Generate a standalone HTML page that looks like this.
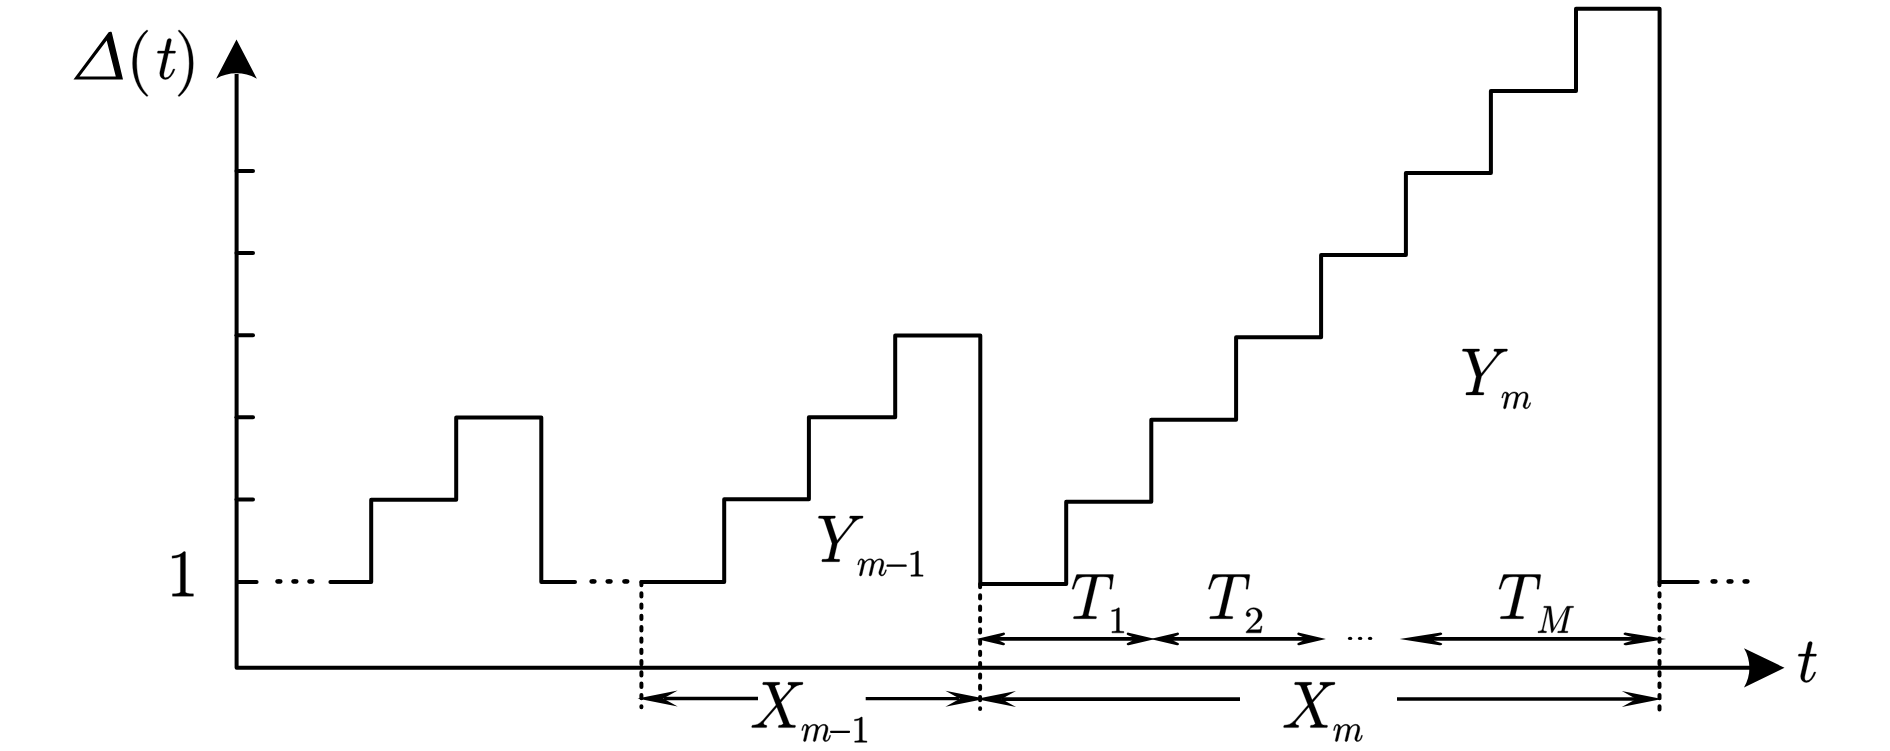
<!DOCTYPE html>
<html><head><meta charset="utf-8"><title>Age of information sample path</title>
<style>
html,body{margin:0;padding:0;background:#fff;}
body{width:1890px;height:751px;overflow:hidden;font-family:"Liberation Serif",serif;}
svg{display:block;}
</style></head><body>
<svg width="1890" height="751" viewBox="0 0 1890 751">
<desc>Sample path of the age process &#916;(t): staircase pulses with areas Y_{m-1}, Y_m, inter-departure intervals X_{m-1}, X_m and slots T_1, T_2, ..., T_M along the t axis; level 1 marked on the vertical axis.</desc>
<rect width="1890" height="751" fill="#fff"/>
<g fill="#000" stroke="none">
<path fill-rule="evenodd" d="M73.5,79.6 L108.6,32.2 Q109.2,31.8 110.2,31.8 L111.1,31.8 Q111.7,31.9 111.8,32.5 L123.0,79.6 Z M79.5,76.6 L115.8,76.6 L106.7,40.4 Z"/>
<path transform="matrix(0.03181 0 0 -0.03228 126.27 79.78)" stroke="#000" stroke-width="0.30" stroke-linejoin="round" vector-effect="non-scaling-stroke" d="M635 -508Q521 -418 438 -302Q356 -185 304 -53Q251 79 225 223Q199 367 199 512Q199 659 225 803Q251 947 304 1080Q358 1213 441 1329Q524 1445 635 1532Q635 1536 645 1536H664Q670 1536 675 1530Q680 1525 680 1518Q680 1509 676 1505Q576 1407 510 1295Q443 1183 402 1056Q362 930 344 794Q326 659 326 512Q326 -139 674 -477Q680 -483 680 -494Q680 -499 674 -506Q669 -512 664 -512H645Q635 -512 635 -508Z"/>
<path transform="matrix(0.02884 0 0 -0.03149 156.10 78.78)" stroke="#000" stroke-width="0.30" stroke-linejoin="round" vector-effect="non-scaling-stroke" d="M127 166Q127 196 133 223L281 811H66Q45 811 45 838Q53 883 72 883H299L381 1217Q389 1244 413 1263Q437 1282 467 1282Q493 1282 510 1266Q528 1251 528 1225Q528 1219 528 1216Q527 1212 526 1208L444 883H655Q676 883 676 856Q675 851 672 839Q669 827 664 819Q659 811 649 811H426L279 219Q264 161 264 119Q264 31 324 31Q414 31 484 116Q553 200 590 301Q598 313 606 313H631Q639 313 644 308Q649 302 649 295Q649 291 647 289Q602 165 516 71Q430 -23 319 -23Q238 -23 182 30Q127 83 127 166Z"/>
<path transform="matrix(0.03119 0 0 -0.03228 174.61 79.78)" stroke="#000" stroke-width="0.30" stroke-linejoin="round" vector-effect="non-scaling-stroke" d="M133 -512Q115 -512 115 -494Q115 -485 119 -481Q469 -139 469 512Q469 1163 123 1501Q115 1506 115 1518Q115 1525 120 1530Q126 1536 133 1536H152Q158 1536 162 1532Q309 1416 407 1250Q505 1084 550 896Q596 708 596 512Q596 367 572 226Q547 86 494 -50Q440 -187 358 -302Q276 -418 162 -508Q158 -512 152 -512Z"/>
<path transform="matrix(0.03114 0 0 -0.03270 166.56 596.20)" stroke="#000" stroke-width="0.30" stroke-linejoin="round" vector-effect="non-scaling-stroke" d="M190 0V72Q446 72 446 137V1212Q340 1161 178 1161V1233Q429 1233 557 1364H586Q593 1364 600 1358Q606 1353 606 1346V137Q606 72 862 72V0Z"/>
<path transform="matrix(0.02884 0 0 -0.03149 1797.00 681.78)" stroke="#000" stroke-width="0.30" stroke-linejoin="round" vector-effect="non-scaling-stroke" d="M127 166Q127 196 133 223L281 811H66Q45 811 45 838Q53 883 72 883H299L381 1217Q389 1244 413 1263Q437 1282 467 1282Q493 1282 510 1266Q528 1251 528 1225Q528 1219 528 1216Q527 1212 526 1208L444 883H655Q676 883 676 856Q675 851 672 839Q669 827 664 819Q659 811 649 811H426L279 219Q264 161 264 119Q264 31 324 31Q414 31 484 116Q553 200 590 301Q598 313 606 313H631Q639 313 644 308Q649 302 649 295Q649 291 647 289Q602 165 516 71Q430 -23 319 -23Q238 -23 182 30Q127 83 127 166Z"/>
<path transform="matrix(0.02990 0 0 -0.03267 816.37 561.70)" stroke="#000" stroke-width="0.30" stroke-linejoin="round" vector-effect="non-scaling-stroke" d="M182 27Q183 32 186 44Q189 56 194 64Q199 72 209 72Q334 72 383 86Q393 89 402 100Q410 111 415 123Q420 135 424 147L526 559L262 1286Q244 1313 197 1320Q150 1327 88 1327Q68 1327 68 1354Q74 1379 79 1389Q84 1399 102 1399H618Q637 1399 637 1372Q629 1327 610 1327Q465 1327 465 1282L696 651L1180 1210Q1184 1220 1194 1234Q1204 1249 1209 1259Q1214 1269 1214 1282Q1214 1327 1130 1327Q1110 1327 1110 1354Q1114 1370 1116 1379Q1119 1388 1126 1394Q1132 1399 1145 1399H1542Q1551 1399 1557 1390Q1563 1381 1563 1372Q1559 1357 1557 1350Q1555 1344 1550 1336Q1545 1327 1534 1327Q1452 1327 1379 1292Q1306 1256 1251 1192Q1249 1190 1246 1188Q1244 1187 1241 1184L700 559L594 135Q594 130 592 120Q590 110 590 104Q590 96 592 90Q595 85 600 84Q604 82 614 80Q653 72 762 72Q782 72 782 45Q775 16 771 8Q767 0 748 0H203Q182 0 182 27Z"/>
<path transform="matrix(0.01700 0 0 -0.01843 856.81 575.53)" stroke="#000" stroke-width="0.40" stroke-linejoin="round" vector-effect="non-scaling-stroke" d="M158 35Q158 47 160 53L313 664Q328 721 328 764Q328 852 268 852Q204 852 173 776Q142 699 113 582Q113 576 107 572Q101 569 96 569H72Q65 569 60 576Q55 584 55 590Q77 679 98 741Q118 803 162 854Q205 905 270 905Q347 905 406 856Q465 808 465 733Q526 813 608 859Q690 905 782 905Q879 905 950 856Q1020 806 1020 715Q1083 804 1168 854Q1252 905 1352 905Q1458 905 1522 848Q1587 790 1587 684Q1587 600 1550 481Q1512 362 1456 215Q1427 144 1427 92Q1427 31 1475 31Q1555 31 1608 117Q1661 203 1683 301Q1689 313 1700 313H1724Q1732 313 1738 308Q1743 302 1743 295Q1743 293 1741 289Q1713 173 1644 75Q1574 -23 1470 -23Q1398 -23 1347 26Q1296 76 1296 147Q1296 183 1313 227Q1371 381 1410 502Q1448 623 1448 715Q1448 772 1425 812Q1402 852 1348 852Q1236 852 1154 784Q1072 715 1012 602Q1008 582 1006 571L874 45Q867 17 842 -3Q818 -23 788 -23Q764 -23 746 -7Q727 9 727 35Q727 47 729 53L860 575Q881 659 881 715Q881 772 858 812Q834 852 778 852Q703 852 640 819Q577 786 530 732Q483 677 444 602L305 45Q298 17 274 -3Q249 -23 219 -23Q194 -23 176 -7Q158 9 158 35Z"/>
<path transform="matrix(0.01615 0 0 -0.02683 883.75 579.44)" d="M209 471Q192 471 181 484Q170 497 170 512Q170 527 181 540Q192 553 209 553H1384Q1400 553 1410 540Q1421 527 1421 512Q1421 497 1410 484Q1400 471 1384 471Z"/>
<path transform="matrix(0.01798 0 0 -0.01848 907.55 576.25)" stroke="#000" stroke-width="0.40" stroke-linejoin="round" vector-effect="non-scaling-stroke" d="M190 0V72Q446 72 446 137V1212Q340 1161 178 1161V1233Q429 1233 557 1364H586Q593 1364 600 1358Q606 1353 606 1346V137Q606 72 862 72V0Z"/>
<path transform="matrix(0.03017 0 0 -0.03281 1460.35 394.90)" stroke="#000" stroke-width="0.30" stroke-linejoin="round" vector-effect="non-scaling-stroke" d="M182 27Q183 32 186 44Q189 56 194 64Q199 72 209 72Q334 72 383 86Q393 89 402 100Q410 111 415 123Q420 135 424 147L526 559L262 1286Q244 1313 197 1320Q150 1327 88 1327Q68 1327 68 1354Q74 1379 79 1389Q84 1399 102 1399H618Q637 1399 637 1372Q629 1327 610 1327Q465 1327 465 1282L696 651L1180 1210Q1184 1220 1194 1234Q1204 1249 1209 1259Q1214 1269 1214 1282Q1214 1327 1130 1327Q1110 1327 1110 1354Q1114 1370 1116 1379Q1119 1388 1126 1394Q1132 1399 1145 1399H1542Q1551 1399 1557 1390Q1563 1381 1563 1372Q1559 1357 1557 1350Q1555 1344 1550 1336Q1545 1327 1534 1327Q1452 1327 1379 1292Q1306 1256 1251 1192Q1249 1190 1246 1188Q1244 1187 1241 1184L700 559L594 135Q594 130 592 120Q590 110 590 104Q590 96 592 90Q595 85 600 84Q604 82 614 80Q653 72 762 72Q782 72 782 45Q775 16 771 8Q767 0 748 0H203Q182 0 182 27Z"/>
<path transform="matrix(0.01718 0 0 -0.01810 1500.81 408.33)" stroke="#000" stroke-width="0.40" stroke-linejoin="round" vector-effect="non-scaling-stroke" d="M158 35Q158 47 160 53L313 664Q328 721 328 764Q328 852 268 852Q204 852 173 776Q142 699 113 582Q113 576 107 572Q101 569 96 569H72Q65 569 60 576Q55 584 55 590Q77 679 98 741Q118 803 162 854Q205 905 270 905Q347 905 406 856Q465 808 465 733Q526 813 608 859Q690 905 782 905Q879 905 950 856Q1020 806 1020 715Q1083 804 1168 854Q1252 905 1352 905Q1458 905 1522 848Q1587 790 1587 684Q1587 600 1550 481Q1512 362 1456 215Q1427 144 1427 92Q1427 31 1475 31Q1555 31 1608 117Q1661 203 1683 301Q1689 313 1700 313H1724Q1732 313 1738 308Q1743 302 1743 295Q1743 293 1741 289Q1713 173 1644 75Q1574 -23 1470 -23Q1398 -23 1347 26Q1296 76 1296 147Q1296 183 1313 227Q1371 381 1410 502Q1448 623 1448 715Q1448 772 1425 812Q1402 852 1348 852Q1236 852 1154 784Q1072 715 1012 602Q1008 582 1006 571L874 45Q867 17 842 -3Q818 -23 788 -23Q764 -23 746 -7Q727 9 727 35Q727 47 729 53L860 575Q881 659 881 715Q881 772 858 812Q834 852 778 852Q703 852 640 819Q577 786 530 732Q483 677 444 602L305 45Q298 17 274 -3Q249 -23 219 -23Q194 -23 176 -7Q158 9 158 35Z"/>
<path transform="matrix(0.02963 0 0 -0.03159 1070.65 618.70)" stroke="#000" stroke-width="0.30" stroke-linejoin="round" vector-effect="non-scaling-stroke" d="M94 27Q95 32 98 45Q102 58 108 65Q113 72 123 72Q299 72 356 82Q411 96 422 141L702 1266Q711 1291 711 1311Q711 1327 639 1327H520Q383 1327 308 1285Q234 1243 199 1174Q164 1105 109 948Q102 930 88 930H70Q49 930 49 956L195 1380Q199 1399 215 1399H1425Q1446 1399 1446 1372L1378 948Q1378 942 1371 936Q1364 930 1358 930H1339Q1319 930 1319 956Q1341 1101 1341 1161Q1341 1233 1311 1270Q1281 1307 1233 1317Q1185 1327 1108 1327H987Q932 1327 913 1317Q894 1307 881 1257L600 133Q599 129 598 125Q598 121 596 115Q596 89 627 82Q680 72 854 72Q874 72 874 45Q867 16 863 8Q859 0 840 0H115Q94 0 94 27Z"/>
<path transform="matrix(0.01769 0 0 -0.01840 1108.60 632.85)" stroke="#000" stroke-width="0.40" stroke-linejoin="round" vector-effect="non-scaling-stroke" d="M190 0V72Q446 72 446 137V1212Q340 1161 178 1161V1233Q429 1233 557 1364H586Q593 1364 600 1358Q606 1353 606 1346V137Q606 72 862 72V0Z"/>
<path transform="matrix(0.02963 0 0 -0.03159 1206.95 618.70)" stroke="#000" stroke-width="0.30" stroke-linejoin="round" vector-effect="non-scaling-stroke" d="M94 27Q95 32 98 45Q102 58 108 65Q113 72 123 72Q299 72 356 82Q411 96 422 141L702 1266Q711 1291 711 1311Q711 1327 639 1327H520Q383 1327 308 1285Q234 1243 199 1174Q164 1105 109 948Q102 930 88 930H70Q49 930 49 956L195 1380Q199 1399 215 1399H1425Q1446 1399 1446 1372L1378 948Q1378 942 1371 936Q1364 930 1358 930H1339Q1319 930 1319 956Q1341 1101 1341 1161Q1341 1233 1311 1270Q1281 1307 1233 1317Q1185 1327 1108 1327H987Q932 1327 913 1317Q894 1307 881 1257L600 133Q599 129 598 125Q598 121 596 115Q596 89 627 82Q680 72 854 72Q874 72 874 45Q867 16 863 8Q859 0 840 0H115Q94 0 94 27Z"/>
<path transform="matrix(0.01944 0 0 -0.01840 1244.17 632.85)" stroke="#000" stroke-width="0.40" stroke-linejoin="round" vector-effect="non-scaling-stroke" d="M102 0V55Q102 60 106 66L424 418Q496 496 541 549Q586 602 630 671Q674 740 700 812Q725 883 725 963Q725 1047 694 1124Q663 1200 602 1246Q540 1292 453 1292Q364 1292 293 1238Q222 1185 193 1100Q201 1102 215 1102Q261 1102 294 1071Q326 1040 326 991Q326 944 294 912Q261 879 215 879Q167 879 134 912Q102 946 102 991Q102 1068 131 1136Q160 1203 214 1256Q269 1308 338 1336Q406 1364 483 1364Q600 1364 701 1314Q802 1265 861 1174Q920 1084 920 963Q920 874 881 794Q842 714 781 648Q720 583 625 500Q530 417 500 389L268 166H465Q610 166 708 168Q805 171 811 176Q835 202 860 365H920L862 0Z"/>
<path transform="matrix(0.02985 0 0 -0.03159 1497.54 618.70)" stroke="#000" stroke-width="0.30" stroke-linejoin="round" vector-effect="non-scaling-stroke" d="M94 27Q95 32 98 45Q102 58 108 65Q113 72 123 72Q299 72 356 82Q411 96 422 141L702 1266Q711 1291 711 1311Q711 1327 639 1327H520Q383 1327 308 1285Q234 1243 199 1174Q164 1105 109 948Q102 930 88 930H70Q49 930 49 956L195 1380Q199 1399 215 1399H1425Q1446 1399 1446 1372L1378 948Q1378 942 1371 936Q1364 930 1358 930H1339Q1319 930 1319 956Q1341 1101 1341 1161Q1341 1233 1311 1270Q1281 1307 1233 1317Q1185 1327 1108 1327H987Q932 1327 913 1317Q894 1307 881 1257L600 133Q599 129 598 125Q598 121 596 115Q596 89 627 82Q680 72 854 72Q874 72 874 45Q867 16 863 8Q859 0 840 0H115Q94 0 94 27Z"/>
<path transform="matrix(0.01735 0 0 -0.01887 1536.49 632.65)" stroke="#000" stroke-width="0.40" stroke-linejoin="round" vector-effect="non-scaling-stroke" d="M104 0Q84 0 84 27Q85 32 88 44Q91 56 96 64Q101 72 111 72Q306 72 338 197L604 1266Q608 1286 608 1294Q608 1316 584 1319Q545 1327 436 1327Q416 1327 416 1354Q417 1359 420 1372Q423 1384 428 1392Q434 1399 442 1399H803Q826 1399 829 1376L989 203L1735 1376Q1749 1399 1774 1399H2122Q2142 1399 2142 1372Q2141 1367 2138 1354Q2135 1342 2130 1334Q2124 1327 2116 1327Q1991 1327 1942 1313Q1915 1304 1903 1257L1622 133Q1618 113 1618 104Q1618 96 1620 90Q1623 85 1628 84Q1632 82 1642 80Q1681 72 1790 72Q1810 72 1810 45Q1803 16 1799 8Q1795 0 1776 0H1241Q1221 0 1221 27Q1222 32 1225 44Q1228 57 1234 64Q1239 72 1247 72Q1372 72 1421 86Q1448 95 1460 141L1755 1327L928 23Q916 0 887 0Q861 0 858 23L684 1311L403 188Q401 183 400 176Q399 168 397 158Q397 105 444 88Q490 72 557 72Q578 72 578 45Q571 18 566 9Q562 0 543 0Z"/>
<path transform="matrix(0.03032 0 0 -0.03238 750.09 727.60)" stroke="#000" stroke-width="0.30" stroke-linejoin="round" vector-effect="non-scaling-stroke" d="M74 0Q53 0 53 27Q54 32 58 45Q61 58 66 65Q72 72 82 72Q268 72 401 211Q403 213 406 214Q408 215 408 215L856 698L612 1286Q591 1313 544 1320Q497 1327 434 1327Q414 1327 414 1354Q421 1380 425 1390Q429 1399 449 1399H961Q981 1399 981 1372Q980 1367 976 1354Q973 1341 968 1334Q962 1327 952 1327Q914 1327 874 1314Q833 1302 817 1274L993 850L1329 1210Q1332 1217 1343 1234Q1354 1252 1354 1268Q1354 1298 1328 1312Q1302 1327 1266 1327Q1245 1327 1245 1354Q1252 1380 1256 1390Q1260 1399 1280 1399H1724Q1735 1399 1740 1391Q1745 1383 1745 1372Q1744 1367 1741 1355Q1738 1343 1733 1335Q1728 1327 1718 1327Q1623 1327 1544 1292Q1464 1258 1397 1188Q1396 1187 1394 1186Q1393 1186 1391 1184L1020 784L1300 113Q1333 72 1479 72Q1499 72 1499 45Q1492 18 1488 9Q1483 0 1464 0H952Q932 0 932 27Q933 32 936 44Q939 57 944 64Q950 72 958 72Q998 72 1039 84Q1080 97 1096 125L883 635L469 188Q466 181 455 164Q444 147 444 131Q444 101 472 86Q500 72 532 72Q553 72 553 45Q546 16 542 8Q538 0 518 0Z"/>
<path transform="matrix(0.01712 0 0 -0.01853 800.81 741.12)" stroke="#000" stroke-width="0.40" stroke-linejoin="round" vector-effect="non-scaling-stroke" d="M158 35Q158 47 160 53L313 664Q328 721 328 764Q328 852 268 852Q204 852 173 776Q142 699 113 582Q113 576 107 572Q101 569 96 569H72Q65 569 60 576Q55 584 55 590Q77 679 98 741Q118 803 162 854Q205 905 270 905Q347 905 406 856Q465 808 465 733Q526 813 608 859Q690 905 782 905Q879 905 950 856Q1020 806 1020 715Q1083 804 1168 854Q1252 905 1352 905Q1458 905 1522 848Q1587 790 1587 684Q1587 600 1550 481Q1512 362 1456 215Q1427 144 1427 92Q1427 31 1475 31Q1555 31 1608 117Q1661 203 1683 301Q1689 313 1700 313H1724Q1732 313 1738 308Q1743 302 1743 295Q1743 293 1741 289Q1713 173 1644 75Q1574 -23 1470 -23Q1398 -23 1347 26Q1296 76 1296 147Q1296 183 1313 227Q1371 381 1410 502Q1448 623 1448 715Q1448 772 1425 812Q1402 852 1348 852Q1236 852 1154 784Q1072 715 1012 602Q1008 582 1006 571L874 45Q867 17 842 -3Q818 -23 788 -23Q764 -23 746 -7Q727 9 727 35Q727 47 729 53L860 575Q881 659 881 715Q881 772 858 812Q834 852 778 852Q703 852 640 819Q577 786 530 732Q483 677 444 602L305 45Q298 17 274 -3Q249 -23 219 -23Q194 -23 176 -7Q158 9 158 35Z"/>
<path transform="matrix(0.01591 0 0 -0.02683 827.40 745.54)" d="M209 471Q192 471 181 484Q170 497 170 512Q170 527 181 540Q192 553 209 553H1384Q1400 553 1410 540Q1421 527 1421 512Q1421 497 1410 484Q1400 471 1384 471Z"/>
<path transform="matrix(0.01798 0 0 -0.01855 851.35 742.35)" stroke="#000" stroke-width="0.40" stroke-linejoin="round" vector-effect="non-scaling-stroke" d="M190 0V72Q446 72 446 137V1212Q340 1161 178 1161V1233Q429 1233 557 1364H586Q593 1364 600 1358Q606 1353 606 1346V137Q606 72 862 72V0Z"/>
<path transform="matrix(0.03038 0 0 -0.03238 1281.99 727.60)" stroke="#000" stroke-width="0.30" stroke-linejoin="round" vector-effect="non-scaling-stroke" d="M74 0Q53 0 53 27Q54 32 58 45Q61 58 66 65Q72 72 82 72Q268 72 401 211Q403 213 406 214Q408 215 408 215L856 698L612 1286Q591 1313 544 1320Q497 1327 434 1327Q414 1327 414 1354Q421 1380 425 1390Q429 1399 449 1399H961Q981 1399 981 1372Q980 1367 976 1354Q973 1341 968 1334Q962 1327 952 1327Q914 1327 874 1314Q833 1302 817 1274L993 850L1329 1210Q1332 1217 1343 1234Q1354 1252 1354 1268Q1354 1298 1328 1312Q1302 1327 1266 1327Q1245 1327 1245 1354Q1252 1380 1256 1390Q1260 1399 1280 1399H1724Q1735 1399 1740 1391Q1745 1383 1745 1372Q1744 1367 1741 1355Q1738 1343 1733 1335Q1728 1327 1718 1327Q1623 1327 1544 1292Q1464 1258 1397 1188Q1396 1187 1394 1186Q1393 1186 1391 1184L1020 784L1300 113Q1333 72 1479 72Q1499 72 1499 45Q1492 18 1488 9Q1483 0 1464 0H952Q932 0 932 27Q933 32 936 44Q939 57 944 64Q950 72 958 72Q998 72 1039 84Q1080 97 1096 125L883 635L469 188Q466 181 455 164Q444 147 444 131Q444 101 472 86Q500 72 532 72Q553 72 553 45Q546 16 542 8Q538 0 518 0Z"/>
<path transform="matrix(0.01712 0 0 -0.01853 1332.61 741.12)" stroke="#000" stroke-width="0.40" stroke-linejoin="round" vector-effect="non-scaling-stroke" d="M158 35Q158 47 160 53L313 664Q328 721 328 764Q328 852 268 852Q204 852 173 776Q142 699 113 582Q113 576 107 572Q101 569 96 569H72Q65 569 60 576Q55 584 55 590Q77 679 98 741Q118 803 162 854Q205 905 270 905Q347 905 406 856Q465 808 465 733Q526 813 608 859Q690 905 782 905Q879 905 950 856Q1020 806 1020 715Q1083 804 1168 854Q1252 905 1352 905Q1458 905 1522 848Q1587 790 1587 684Q1587 600 1550 481Q1512 362 1456 215Q1427 144 1427 92Q1427 31 1475 31Q1555 31 1608 117Q1661 203 1683 301Q1689 313 1700 313H1724Q1732 313 1738 308Q1743 302 1743 295Q1743 293 1741 289Q1713 173 1644 75Q1574 -23 1470 -23Q1398 -23 1347 26Q1296 76 1296 147Q1296 183 1313 227Q1371 381 1410 502Q1448 623 1448 715Q1448 772 1425 812Q1402 852 1348 852Q1236 852 1154 784Q1072 715 1012 602Q1008 582 1006 571L874 45Q867 17 842 -3Q818 -23 788 -23Q764 -23 746 -7Q727 9 727 35Q727 47 729 53L860 575Q881 659 881 715Q881 772 858 812Q834 852 778 852Q703 852 640 819Q577 786 530 732Q483 677 444 602L305 45Q298 17 274 -3Q249 -23 219 -23Q194 -23 176 -7Q158 9 158 35Z"/>
<ellipse cx="1350.1" cy="638.4" rx="2.2" ry="1.6"/>
<ellipse cx="1360.1" cy="638.4" rx="2.2" ry="1.6"/>
<ellipse cx="1370.1" cy="638.4" rx="2.2" ry="1.6"/>
</g>
<g fill="none" stroke="#000" stroke-width="4" stroke-linecap="butt" stroke-linejoin="round">
<path d="M236.6,74 V667.8 H1750" stroke-linejoin="round" stroke-width="4"/>
<path d="M236.5,171.0 H253" stroke-linecap="round"/>
<path d="M236.5,253.1 H253" stroke-linecap="round"/>
<path d="M236.5,335.2 H253" stroke-linecap="round"/>
<path d="M236.5,417.3 H253" stroke-linecap="round"/>
<path d="M236.5,499.6 H253" stroke-linecap="round"/>
<path d="M238,581.9 H256.6" stroke-linecap="round"/>
<path d="M330.4,581.9 H371.2 V499.7 H456.2 V417.6 H541.3 V581.9 H575.0" stroke-linecap="round"/>
<path d="M641.4,581.9 H724.2 V499.2 H808.9 V417.2 H895.2 V335.5 H980.3 V584.0 H1066.2 V501.8 H1151.3 V419.7 H1236.1 V337.3 H1321.1 V255.1 H1405.9 V172.9 H1490.9 V91.0 H1576.0 V8.8 H1659.6 V581.9 H1697.7" stroke-linecap="round"/>
<ellipse cx="278.9" cy="581.4" rx="3.6" ry="2.35" fill="#000" stroke="none"/>
<ellipse cx="294.9" cy="581.4" rx="3.6" ry="2.35" fill="#000" stroke="none"/>
<ellipse cx="310.9" cy="581.4" rx="3.6" ry="2.35" fill="#000" stroke="none"/>
<ellipse cx="593.0" cy="581.4" rx="3.6" ry="2.35" fill="#000" stroke="none"/>
<ellipse cx="609.1" cy="581.4" rx="3.6" ry="2.35" fill="#000" stroke="none"/>
<ellipse cx="625.8" cy="581.4" rx="3.6" ry="2.35" fill="#000" stroke="none"/>
<ellipse cx="1714.0" cy="581.4" rx="3.6" ry="2.35" fill="#000" stroke="none"/>
<ellipse cx="1730.0" cy="581.4" rx="3.6" ry="2.35" fill="#000" stroke="none"/>
<ellipse cx="1746.0" cy="581.4" rx="3.6" ry="2.35" fill="#000" stroke="none"/>
<path d="M641.4,581.9 V707.3" stroke-linecap="round" stroke-dasharray="3.3 8"/>
<path d="M980.1,584.0 V709.1" stroke-linecap="round" stroke-dasharray="3.3 8"/>
<path d="M1659.5,581.9 V710.0" stroke-linecap="round" stroke-dasharray="3.3 8"/>
<path d="M998,638.9 H1133" stroke-width="3.9"/>
<path d="M1173,638.9 H1304" stroke-width="3.9"/>
<path d="M1433,638.9 H1633" stroke-width="3.9"/>
<path d="M664,698.5 H758.0" stroke-width="3.3"/>
<path d="M865.7,698.6 H959" stroke-width="3.3"/>
<path d="M1002,699.05 H1240" stroke-width="3.7"/>
<path d="M1397,699.0 H1636" stroke-width="3.7"/>
</g>
<g fill="#000" stroke="none">
<path d="M236.5,39.5 L216.1,78.8 C228,71.4 245,71.4 256.9,78.8 Z"/>
<path d="M1784.5,667.8 L1744,648.2 C1751.2,660 1751.2,675.6 1744,687.6 Z"/>
<path transform="translate(976.40,638.90) scale(1.100,1)" d="M0,0 L24.2,-6.25 A1.25,1.25 0 0 1 25.3,-4.0 L21,-1.8 L21,1.8 L25.3,4.0 A1.25,1.25 0 0 1 24.2,6.25 Z"/>
<path transform="translate(1155.30,638.90) scale(-1.100,1)" d="M0,0 L24.2,-6.25 A1.25,1.25 0 0 1 25.3,-4.0 L21,-1.8 L21,1.8 L25.3,4.0 A1.25,1.25 0 0 1 24.2,6.25 Z"/>
<path transform="translate(1150.40,638.90) scale(1.100,1)" d="M0,0 L24.2,-6.25 A1.25,1.25 0 0 1 25.3,-4.0 L21,-1.8 L21,1.8 L25.3,4.0 A1.25,1.25 0 0 1 24.2,6.25 Z"/>
<path transform="translate(1325.90,638.90) scale(-1.100,1)" d="M0,0 L24.2,-6.25 A1.25,1.25 0 0 1 25.3,-4.0 L21,-1.8 L21,1.8 L25.3,4.0 A1.25,1.25 0 0 1 24.2,6.25 Z"/>
<path transform="translate(1399.60,638.90) scale(1.640,1)" d="M0,0 L24.2,-6.25 A1.25,1.25 0 0 1 25.3,-4.0 L21,-1.8 L21,1.8 L25.3,4.0 A1.25,1.25 0 0 1 24.2,6.25 Z"/>
<path transform="translate(1666.20,638.90) scale(-1.640,1)" d="M0,0 L24.2,-6.25 A1.25,1.25 0 0 1 25.3,-4.0 L21,-1.8 L21,1.8 L25.3,4.0 A1.25,1.25 0 0 1 24.2,6.25 Z"/>
<path d="M637.5,698.5 L677.7,690.5 L663.3,698.5 L677.7,706.5 Z"/>
<path d="M985.6,698.7 L945.4,690.7 L959.8,698.7 L945.4,706.7 Z"/>
<path d="M975.8,699.1 L1016.0,691.1 L1001.6,699.1 L1016.0,707.1 Z"/>
<path d="M1662.0,698.9 L1621.8,690.9 L1636.2,698.9 L1621.8,706.9 Z"/>
</g>
</svg>
</body></html>
